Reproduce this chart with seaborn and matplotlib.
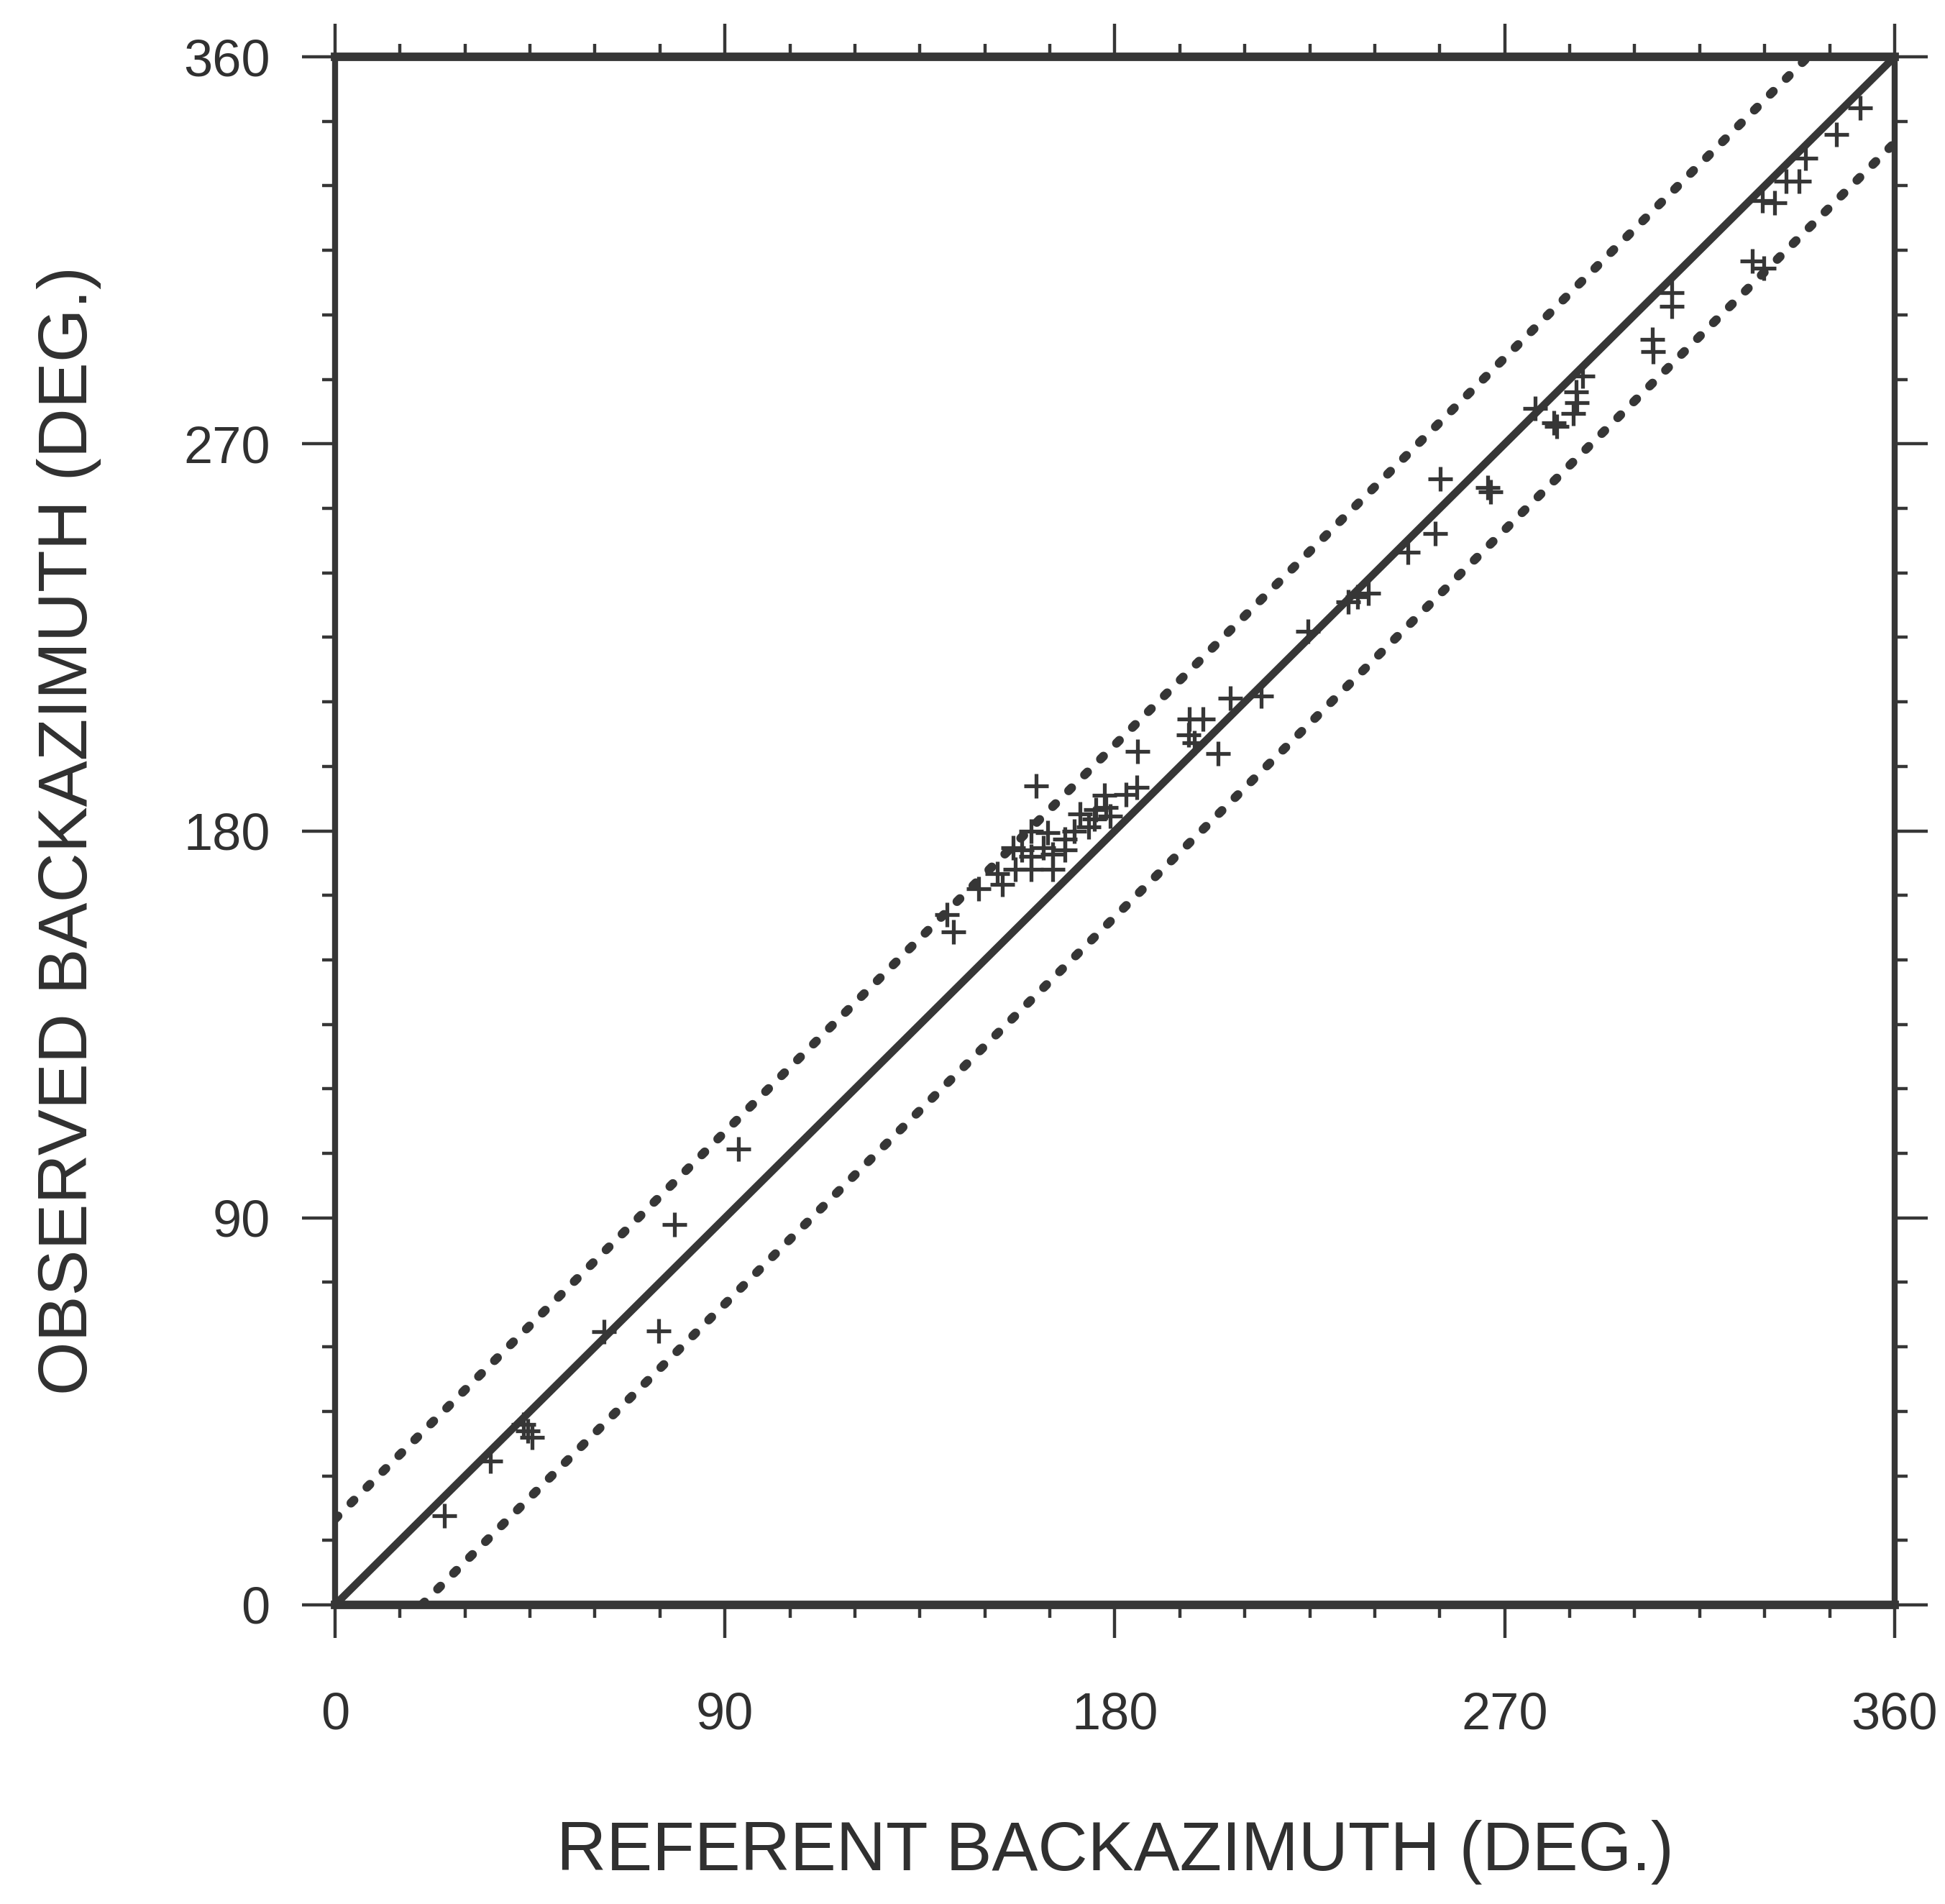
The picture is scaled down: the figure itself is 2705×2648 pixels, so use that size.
import numpy as np
import pandas as pd
import matplotlib
matplotlib.use("Agg")
import matplotlib.pyplot as plt
import seaborn as sns

# ---------------- data ----------------
referent = [25.2, 35.8, 43.5, 44.5, 45.5, 62.0, 74.7, 78.3, 93.1,
            141.3, 142.7, 148.5, 152.8, 154.0, 156.5, 157.0, 158.5, 160.7, 160.7,
            160.7, 161.8, 163.5, 164.5, 165.6, 165.6, 168.4, 168.4, 170.6, 172.0,
            174.0, 175.3, 175.6, 177.6, 178.0, 179.0, 182.6, 185.0, 185.3,
            197.2, 200.3, 197.0, 198.3, 203.8, 206.6, 213.8, 224.6, 233.8, 236.0,
            238.5, 247.6, 254.0, 255.1, 266.0, 266.8, 277.0, 281.4, 282.0, 285.8,
            286.6, 286.4, 288.0, 304.0, 304.3, 308.5, 308.5, 327.1, 329.8, 329.5,
            332.2, 335.0, 338.0, 339.5, 346.5, 352.0]
observed = [20.7, 33.4, 42.0, 40.5, 39.0, 63.5, 63.7, 88.5, 106.0,
            160.6, 156.5, 166.5, 170.0, 167.5, 176.0, 171.0, 175.5, 180.0, 174.0,
            171.0, 190.4, 176.0, 179.5, 174.5, 171.0, 178.0, 175.5, 180.0, 184.0,
            181.0, 182.8, 185.0, 188.2, 185.4, 183.5, 188.5, 190.1, 198.5,
            206.0, 206.0, 202.4, 200.5, 198.0, 210.8, 211.4, 226.4, 233.3, 234.4,
            235.3, 244.8, 249.2, 261.8, 259.8, 258.9, 278.3, 274.9, 274.0, 277.0,
            279.5, 282.0, 285.8, 294.3, 291.5, 305.2, 301.9, 312.5, 310.9, 326.5,
            326.0, 331.0, 331.0, 336.5, 342.0, 348.2]

ref_line_x = [0, 360]
ref_line_y = [0, 360]
band = 20  # degrees, dotted tolerance lines
upper_x = [0, 360 - band]
upper_y = [band, 360]
lower_x = [band, 360]
lower_y = [0, 360 - band]

major_ticks = [0, 90, 180, 270, 360]
major_labels = ["0", "90", "180", "270", "360"]
minor_ticks = list(range(0, 361, 15))

xlabel = "REFERENT BACKAZIMUTH (DEG.)"
ylabel = "OBSERVED BACKAZIMUTH (DEG.)"

# ---------------- style ----------------
sns.set_style("ticks")
plt.rcParams['font.family'] = ['Liberation Sans', 'DejaVu Sans']
ink = "#363636"
txt = "#303030"

fig = plt.figure(figsize=(27.05, 26.48), dpi=100)
W, H = 2705, 2648
x0, x1, y0, y1 = 466, 2635, 2232, 79
ax = fig.add_axes([x0 / W, 1 - y0 / H, (x1 - x0) / W, (y0 - y1) / H])

df = pd.DataFrame({"ref": referent, "obs": observed})

sns.lineplot(x=ref_line_x, y=ref_line_y, ax=ax, color=ink, lw=7.6,
             solid_capstyle="butt", zorder=2)
for xs, ys in [(upper_x, upper_y), (lower_x, lower_y)]:
    sns.lineplot(x=xs, y=ys, ax=ax, color=ink, lw=9.0,
                 linestyle=(0, (0.45, 2.05)), dash_capstyle="round", zorder=2)

sns.scatterplot(data=df, x="ref", y="obs", ax=ax, marker="+", s=600,
                color=ink, linewidth=3.8, zorder=3)

ax.set_xlim(0, 360)
ax.set_ylim(0, 360)

for side in ["left", "right"]:
    ax.spines[side].set_linewidth(6.0)
    ax.spines[side].set_color(ink)
for side in ["top", "bottom"]:
    ax.spines[side].set_linewidth(8.5)
    ax.spines[side].set_color(ink)

ax.set_xticks(major_ticks)
ax.set_xticklabels(major_labels)
ax.set_yticks(major_ticks)
ax.set_yticklabels(major_labels)
ax.set_xticks(minor_ticks, minor=True)
ax.set_yticks(minor_ticks, minor=True)

ax.tick_params(which="both", direction="out", top=True, right=True,
               color=ink, width=3.2)
ax.tick_params(which="major", length=33)
ax.tick_params(which="minor", length=13)
ax.tick_params(axis="x", which="major", labelsize=52, labelcolor=txt, pad=54)
ax.tick_params(axis="y", which="major", labelsize=52, labelcolor=txt, pad=32)

ax.set_xlabel(xlabel, fontsize=69, color=txt)
ax.set_ylabel(ylabel, fontsize=69, color=txt)
ax.xaxis.set_label_coords(0.5, -0.139)
ax.yaxis.set_label_coords(-0.150, 0.5)

fig.savefig("out.png", dpi=100, facecolor="white")
